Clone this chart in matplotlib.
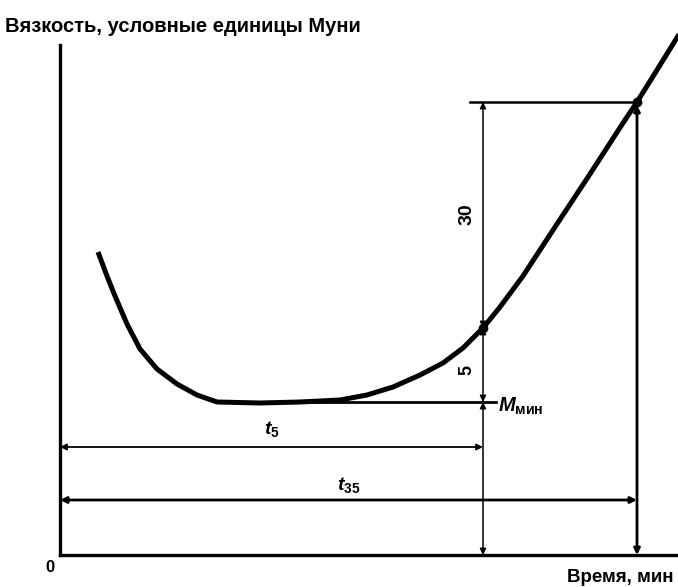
import matplotlib.pyplot as plt

plt.rcParams['font.family'] = ['Liberation Sans', 'DejaVu Sans']
plt.rcParams['font.weight'] = 'bold'
plt.rcParams['mathtext.fontset'] = 'custom'
plt.rcParams['mathtext.rm'] = 'Liberation Sans:bold'
plt.rcParams['mathtext.it'] = 'Liberation Sans:italic:bold'

# кривая вязкости по Муни (условные единицы, схема)
time = [3.8, 4.7, 5.5, 6.7, 8.0, 9.7, 11.7, 13.7, 15.7, 20.0, 24.0, 28.0,
        30.7, 33.3, 36.0, 38.3, 40.3, 42.3, 44.0, 46.3, 49.7, 53.0, 56.3,
        57.7, 59.7, 61.8, 63.0]
visc = [30.3, 27.9, 25.9, 23.1, 20.6, 18.6, 17.1, 16.0, 15.3, 15.2, 15.3, 15.5,
        16.0, 16.8, 18.0, 19.2, 20.7, 22.7, 24.8, 27.9, 33.1, 38.1, 43.2,
        45.3, 48.5, 51.9, 53.8]

m_min = 15.3      # минимальная вязкость
t_min = 15.7
t5 = 42.3         # время подвулканизации t5
m_t5 = 22.7
t35 = 57.7        # время t35
m_t35 = 45.3
y_t5_dim = 10.8   # уровни размерных линий
y_t35_dim = 5.5

fig = plt.figure(figsize=(6.78, 5.87), dpi=100)
ax = fig.add_axes([60 / 678, 32 / 587, 618 / 678, 510 / 587])
ax.set_xlim(0, 61.8)
ax.set_ylim(0, 51.0)
for s in ['top', 'right']:
    ax.spines[s].set_visible(False)
for s in ['left', 'bottom']:
    ax.spines[s].set_linewidth(2.4)
ax.set_xticks([])
ax.set_yticks([])

ax.plot(time, visc, color='black', lw=3.6, solid_capstyle='butt',
        solid_joinstyle='round', clip_on=False)


def dim(x0, y0, x1, y1, lw=1.1, style='<|-|>'):
    ax.annotate('', xy=(x1, y1), xytext=(x0, y0), annotation_clip=False,
                arrowprops=dict(arrowstyle=style, lw=lw, color='black',
                                mutation_scale=9, shrinkA=0, shrinkB=0))


# линия M_мин
ax.plot([t_min, t5 + 1.3], [m_min, m_min], color='black', lw=2.0)
# выносная линия на уровне t35
ax.plot([t5 - 1.3, t35], [m_t35, m_t35], color='black', lw=1.8)
# точки на кривой
ax.plot([t5, t35], [m_t5, m_t35], 'o', color='black', ms=6)

# вертикальная размерная линия у t5
dim(t5, m_t35, t5, m_t5)
dim(t5, m_t5, t5, m_min)
dim(t5, m_min, t5, 0)
# вертикаль у t35
dim(t35, m_t35 - 0.3, t35, 0, lw=2.0)

# горизонтальные размерные линии
dim(0, y_t5_dim, t5, y_t5_dim, lw=1.3)
dim(0, y_t35_dim, t35, y_t35_dim, lw=2.0)

ax.text(t5 / 2, y_t5_dim + 1.8, r'$t_5$', fontsize=14, ha='center', va='center')
ax.text(t35 / 2, y_t35_dim + 1.5, r'$t_{35}$', fontsize=14, ha='center', va='center')
ax.text(t5 - 1.6, 34.1, '30', rotation=90, fontsize=14,
        ha='center', va='center')
ax.text(t5 - 1.6, 18.5, '5', rotation=90, fontsize=13,
        ha='center', va='center')
ax.text(t5 + 1.5, m_min - 0.4, r'$M_{\mathrm{мин}}$', fontsize=14.5, ha='left', va='center')

fig.text(5 / 678, 1 - 27 / 587, 'Вязкость, условные единицы Муни', fontsize=14.5,
         ha='left', va='center', fontweight='bold')
fig.text(567 / 678, 1 - 578 / 587, 'Время, мин', fontsize=13.5,
         ha='left', va='center', fontweight='bold')
fig.text(50 / 678, 1 - 568 / 587, '0', fontsize=12, ha='center', va='center',
         fontweight='bold')

fig.savefig('out.png', dpi=100)
